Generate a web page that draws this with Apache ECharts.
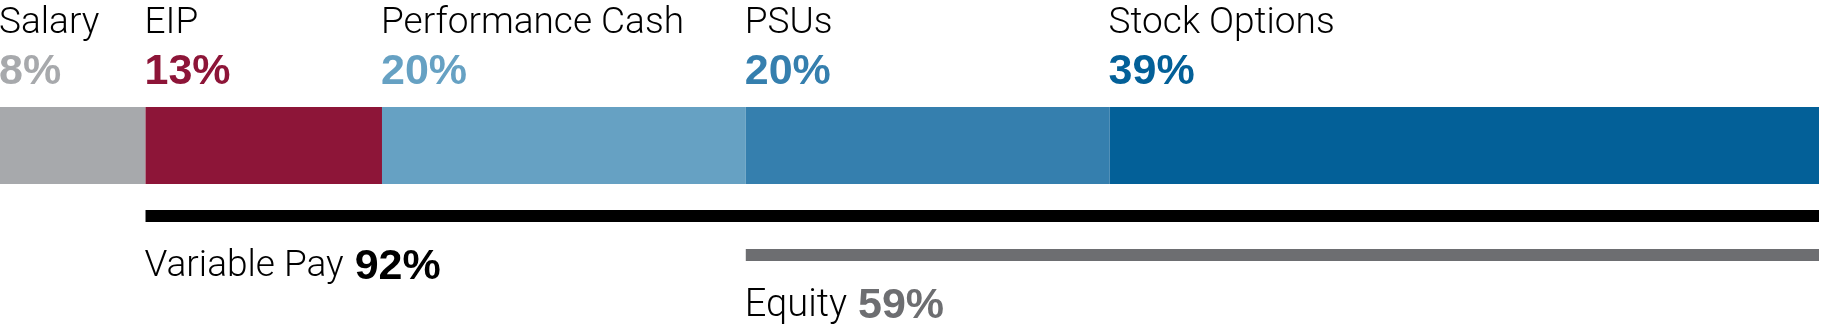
<!DOCTYPE html>
<html>
<head>
<meta charset="utf-8">
<script src="https://cdn.jsdelivr.net/npm/echarts@6/dist/echarts.min.js"></script>
<style>
html,body{margin:0;padding:0;background:#fff;}
#chart{width:1823px;height:328px;}
</style>
</head>
<body>
<div id="chart"></div>
<script>
// ---- data ----
const categories = ['Salary', 'EIP', 'Performance Cash', 'PSUs', 'Stock Options'];
const shares = [8, 13, 20, 20, 39];
const summaryLabels = ['Variable Pay', 'Equity'];
const summaryValues = [92, 59];

// ---- styles ----
const segColors = ['#a7a9ac', '#8d1538', '#66a1c3', '#357fae', '#036098'];
const summaryColors = ['#000000', '#6d6e71'];
const nameFont = 'Roboto, "Liberation Sans", Arial, sans-serif';
const pctFont = '"Liberation Sans", Arial, Helvetica, sans-serif';

const chart = echarts.init(document.getElementById('chart'), null, {renderer: 'canvas'});

const grids = [
  {left: 0, right: 4, top: 107, height: 77},
  {left: 0, right: 4, top: 210, height: 12},
  {left: 0, right: 4, top: 249, height: 12}
];
const xAxes = grids.map((g, i) => ({type: 'value', gridIndex: i, min: 0, max: 100, show: false}));
const yAxes = grids.map((g, i) => ({type: 'category', gridIndex: i, data: ['a'], show: false}));

const series = [];
categories.forEach((name, i) => {
  series.push({
    type: 'bar', xAxisIndex: 0, yAxisIndex: 0, stack: 'mix', barWidth: '100%',
    name: name, data: [shares[i]],
    itemStyle: {color: segColors[i]},
    label: {
      show: true, position: [-1, -107], align: 'left', verticalAlign: 'top',
      formatter: () => '{n|' + name + '}\n{p|' + shares[i] + '%}',
      rich: {
        n: {fontFamily: nameFont, fontWeight: 300, fontSize: 37, lineHeight: 48, color: '#000'},
        p: {fontFamily: pctFont, fontWeight: 'bold', fontSize: 43, lineHeight: 48, color: segColors[i]}
      }
    }
  });
});

summaryLabels.forEach((name, k) => {
  const gi = k + 1;
  const v = summaryValues[k];
  series.push({
    type: 'bar', xAxisIndex: gi, yAxisIndex: gi, stack: 's' + k, barWidth: '100%',
    data: [100 - v], itemStyle: {color: 'rgba(0,0,0,0)'}
  });
  series.push({
    type: 'bar', xAxisIndex: gi, yAxisIndex: gi, stack: 's' + k, barWidth: '100%',
    name: name, data: [v], itemStyle: {color: summaryColors[k]},
    label: {
      show: true, position: [-1, 35], align: 'left', verticalAlign: 'top',
      formatter: () => '{n|' + name + '}{s| }{p|' + v + '%}',
      rich: {
        n: {fontFamily: nameFont, fontWeight: 300, fontSize: k === 0 ? 37 : 38, lineHeight: 44, color: '#000'},
        s: {fontFamily: pctFont, fontSize: 30, lineHeight: 44, width: 11},
        p: {fontFamily: pctFont, fontWeight: 'bold', fontSize: 43, lineHeight: 44, color: summaryColors[k]}
      }
    }
  });
});

chart.setOption({
  animation: false,
  grid: grids,
  xAxis: xAxes,
  yAxis: yAxes,
  tooltip: {show: false},
  series: series
});
</script>
</body>
</html>
